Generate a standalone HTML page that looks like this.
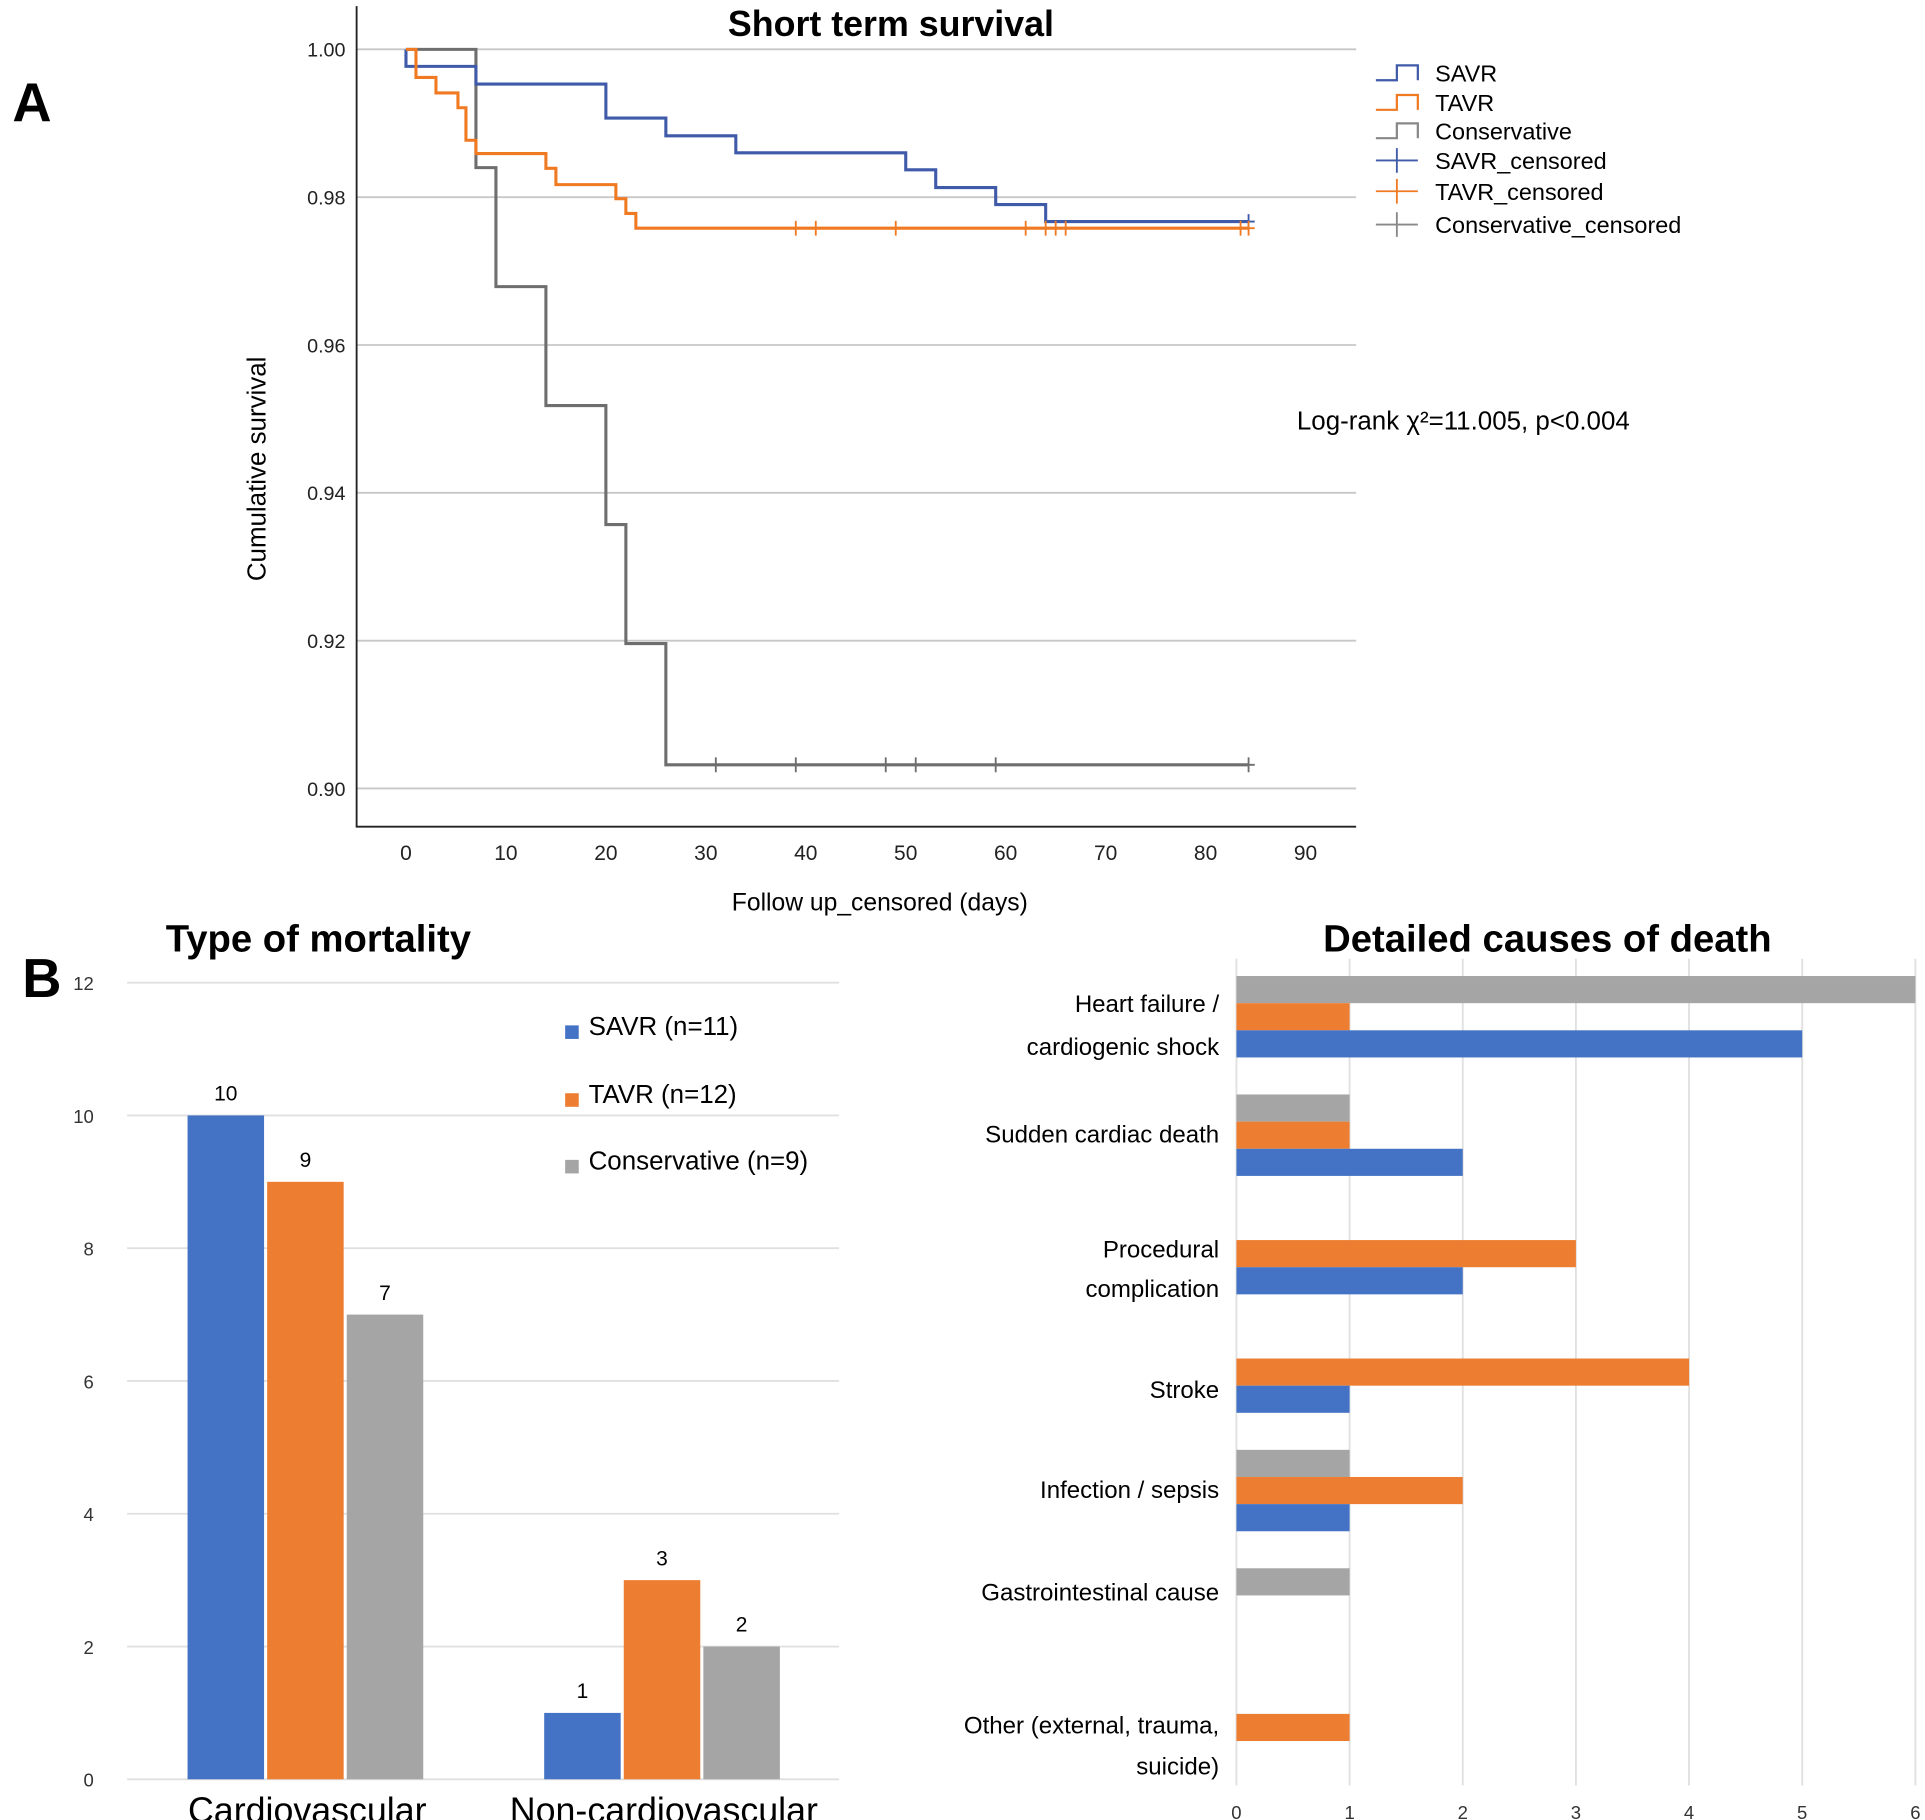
<!DOCTYPE html>
<html><head><meta charset="utf-8"><style>
html,body{margin:0;padding:0;background:#fff;}
svg{display:block;font-family:"Liberation Sans",sans-serif;}
</style></head><body>
<svg id="root" width="1925" height="1820" viewBox="0 0 1560 1475" preserveAspectRatio="none" xmlns="http://www.w3.org/2000/svg">
<g id="panelA"></g>
<g id="panelB1"></g>
<g id="panelB2"></g>
</svg>
<script>
// ---------- Panel A data ----------
const savrTimes = [0, 7, 20, 26, 33, 50, 53, 59, 64];
const savrSurv = [0.9977, 0.9953, 0.9907, 0.9883, 0.986, 0.9837, 0.9813, 0.979, 0.9767];
const savrEnd = 84.3;
const savrCensor = [84.3];
const tavrTimes = [1, 3, 5.2, 6, 7, 14, 15, 21, 22, 23];
const tavrSurv = [0.9962, 0.9941, 0.9921, 0.9877, 0.9859, 0.9839, 0.9817, 0.9798, 0.9778, 0.9758];
const tavrEnd = 84.3;
const tavrCensor = [39, 41, 49, 62, 64, 65, 66, 83.5, 84.3];
const consTimes = [7, 9, 14, 20, 22, 26];
const consSurv = [0.984, 0.9679, 0.9518, 0.9357, 0.9196, 0.9032];
const consEnd = 84.3;
const consCensor = [31, 39, 48, 51, 59, 84.3];
const yTicksA = [1.00, 0.98, 0.96, 0.94, 0.92, 0.90];
const xTicksA = [0, 10, 20, 30, 40, 50, 60, 70, 80, 90];
// ---------- Panel B1 data ----------
const typeCats = ["Cardiovascular", "Non-cardiovascular"];
const typeSavr = [10, 1];
const typeTavr = [9, 3];
const typeCons = [7, 2];
const yTicksB1 = [0, 2, 4, 6, 8, 10, 12];
// ---------- Panel B2 data ----------
const causeCats = [["Heart failure /","cardiogenic shock"],["Sudden cardiac death"],["Procedural","complication"],["Stroke"],["Infection / sepsis"],["Gastrointestinal cause"],["Other (external, trauma,","suicide)"]];
const causeSavr = [5, 2, 2, 1, 1, 0, 0];
const causeTavr = [1, 1, 3, 4, 2, 0, 1];
const causeCons = [6, 1, 0, 0, 1, 1, 0];
const xTicksB2 = [0, 1, 2, 3, 4, 5, 6];

const NS = "http://www.w3.org/2000/svg";
const BLUE = "#4472C4", ORANGE = "#ED7D31", GRAY = "#A5A5A5";
function mk(parent, tag, attrs, text) {
  const e = document.createElementNS(NS, tag);
  for (const k in attrs) e.setAttribute(k, attrs[k]);
  if (text !== undefined) e.textContent = text;
  parent.appendChild(e);
  return e;
}
// ===== Panel A =====
const A = document.getElementById('panelA');
const xA = t => 329 + t * 8.1;
const yA = v => 40 + (1 - v) / 0.02 * 119.8;
let t;
t = mk(A, 'text', {x: 10, y: 98, 'font-size': 44, 'font-weight': 'bold'}, 'A');
 
t = mk(A, 'text', {x: 722, y: 29, 'font-size': 29, 'font-weight': 'bold', 'text-anchor': 'middle'}, 'Short term survival');
 
yTicksA.forEach(v => {
  const g = mk(A, 'line', {x1: 289, x2: 1099, y1: yA(v), y2: yA(v), stroke: '#c8c8c8', 'stroke-width': 1.5});
   
  const l = mk(A, 'text', {x: 280, y: yA(v) + 6, 'font-size': 16, 'text-anchor': 'end', fill: '#222'}, v.toFixed(2));
   
});
xTicksA.forEach(v => {
  const l = mk(A, 'text', {x: xA(v), y: 697, 'font-size': 17, 'text-anchor': 'middle', fill: '#222'}, String(v));
   
});
t = mk(A, 'path', {d: 'M289 5 V670 H1099', fill: 'none', stroke: '#222', 'stroke-width': 1.5});
 
t = mk(A, 'text', {transform: 'translate(215,380) rotate(-90)', 'font-size': 21, 'text-anchor': 'middle'}, 'Cumulative survival');
 
t = mk(A, 'text', {x: 713, y: 738, 'font-size': 20, 'text-anchor': 'middle'}, 'Follow up_censored (days)');
 
t = mk(A, 'text', {x: 1051, y: 348, 'font-size': 21}, 'Log-rank χ²=11.005, p<0.004');
 
function curve(times, surv, end, cens, color, name) {
  let d = 'M' + xA(0) + ' ' + yA(1);
  let cur = 1;
  times.forEach((tt, i) => { d += ' H' + xA(tt) + ' V' + yA(surv[i]); cur = surv[i]; });
  d += ' H' + xA(end);
  const p = mk(A, 'path', {d: d, fill: 'none', stroke: color, 'stroke-width': 2.5});
   
  cens.forEach(c => {
    const m = mk(A, 'path', {d: 'M' + (xA(c) - 5) + ' ' + yA(cur) + ' h10 M' + xA(c) + ' ' + (yA(cur) - 6) + ' v12', stroke: color, 'stroke-width': 1.5});
     
  });
}
curve(consTimes, consSurv, consEnd, consCensor, '#6e6e6e', 'conservative');
curve(savrTimes, savrSurv, savrEnd, savrCensor, '#3f5aa8', 'savr');
curve(tavrTimes, tavrSurv, tavrEnd, tavrCensor, '#f07a22', 'tavr');
const legA = [['SAVR', '#3f5aa8', 0], ['TAVR', '#f07a22', 0], ['Conservative', '#888', 0], ['SAVR_censored', '#3f5aa8', 1], ['TAVR_censored', '#f07a22', 1], ['Conservative_censored', '#888', 1]];
const legY = [59, 83, 106, 130, 155, 182];
legA.forEach((it, i) => {
  const y = legY[i];
  const ic = it[2] ? mk(A, 'path', {d: 'M1115 ' + (y) + ' h34 M1132 ' + (y - 10) + ' v20', stroke: it[1], 'stroke-width': 1.5, fill: 'none'})
                   : mk(A, 'path', {d: 'M1115 ' + (y + 6) + ' h17 v-12 h17 v12', stroke: it[1], 'stroke-width': 1.8, fill: 'none'});
   
  const tx = mk(A, 'text', {x: 1163, y: y + 7, 'font-size': 19}, it[0]);
   
});
// ===== Panel B1 =====
const B1 = document.getElementById('panelB1');
const yB1 = v => 1442 - v * 53.8;
t = mk(B1, 'text', {x: 18, y: 808, 'font-size': 44, 'font-weight': 'bold'}, 'B');
 
t = mk(B1, 'text', {x: 258, y: 771, 'font-size': 31, 'font-weight': 'bold', 'text-anchor': 'middle'}, 'Type of mortality');
 
yTicksB1.forEach(v => {
  const g = mk(B1, 'line', {x1: 103, x2: 680, y1: yB1(v), y2: yB1(v), stroke: '#e0e0e0', 'stroke-width': 1.5});
   
  const l = mk(B1, 'text', {x: 76, y: yB1(v) + 6, 'font-size': 15, 'text-anchor': 'end', fill: '#333'}, String(v));
   
});
const groupX = [152, 441];
const seriesB1 = [[typeSavr, BLUE, 'savr'], [typeTavr, ORANGE, 'tavr'], [typeCons, GRAY, 'conservative']];
typeCats.forEach((c, i) => {
  seriesB1.forEach((s, j) => {
    const x = groupX[i] + j * 64.5, v = s[0][i];
    const r = mk(B1, 'rect', {x: x, y: yB1(v), width: 62, height: yB1(0) - yB1(v), fill: s[1]});
     
    const l = mk(B1, 'text', {x: x + 31, y: yB1(v) - 12, 'font-size': 17, 'text-anchor': 'middle'}, String(v));
     
  });
  const cl = mk(B1, 'text', {x: groupX[i] + 97, y: 1477, 'font-size': 29, 'text-anchor': 'middle'}, c);
   
});
const legB = [['SAVR (n=11)', BLUE, 831], ['TAVR (n=12)', ORANGE, 886], ['Conservative (n=9)', GRAY, 940]];
legB.forEach(it => {
  const s = mk(B1, 'rect', {x: 458, y: it[2], width: 11, height: 11, fill: it[1]});
   
  const tx = mk(B1, 'text', {x: 477, y: it[2] + 8, 'font-size': 21}, it[0]);
   
});
// ===== Panel B2 =====
const B2 = document.getElementById('panelB2');
const xB2 = v => 1002 + v * 91.7;
t = mk(B2, 'text', {x: 1254, y: 771, 'font-size': 31, 'font-weight': 'bold', 'text-anchor': 'middle'}, 'Detailed causes of death');
 
xTicksB2.forEach(v => {
  const g = mk(B2, 'line', {x1: xB2(v), x2: xB2(v), y1: 777, y2: 1447, stroke: '#e0e0e0', 'stroke-width': 1.5});
   
  const l = mk(B2, 'text', {x: xB2(v), y: 1474, 'font-size': 15, 'text-anchor': 'middle', fill: '#333'}, String(v));
   
});
const labelY = [[813, 848], [919], [1012, 1044], [1126], [1207], [1290], [1398, 1431]];
const seriesB2 = [[causeCons, GRAY, 'conservative'], [causeTavr, ORANGE, 'tavr'], [causeSavr, BLUE, 'savr']];
causeCats.forEach((c, i) => {
  const top = 791 + i * 96;
  seriesB2.forEach((s, j) => {
    const v = s[0][i];
    if (v > 0) {
      const r = mk(B2, 'rect', {x: xB2(0), y: top + j * 22, width: xB2(v) - xB2(0), height: 22, fill: s[1]});
       
    }
  });
  c.forEach((line, k) => {
    const l = mk(B2, 'text', {x: 988, y: labelY[i][k] + 7, 'font-size': 19.5, 'text-anchor': 'end'}, line);
     
  });
});
</script>
</body></html>
